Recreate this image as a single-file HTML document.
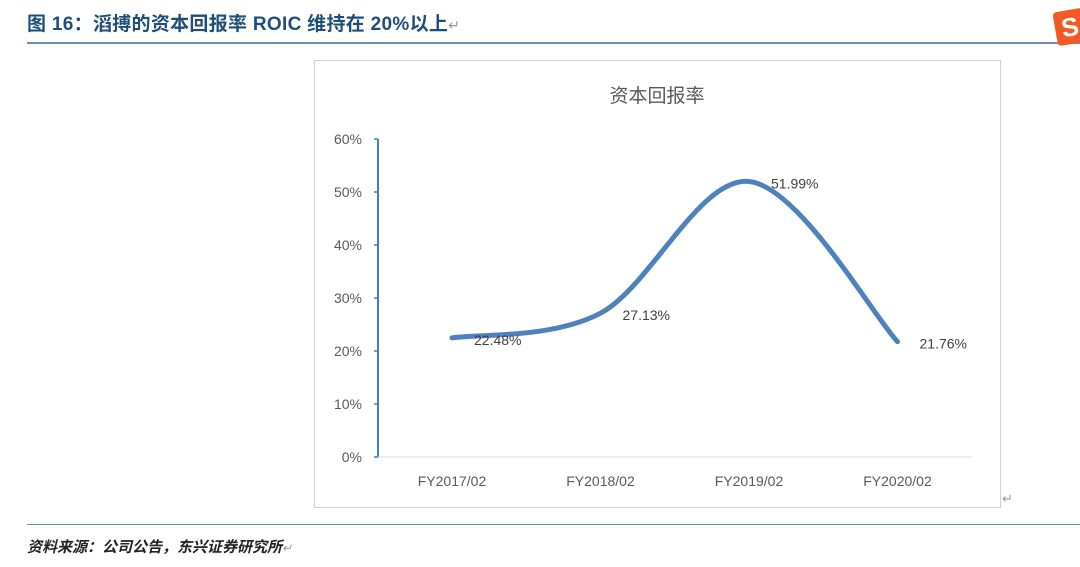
<!DOCTYPE html>
<html><head><meta charset="utf-8"><style>
body{margin:0;width:1080px;height:567px;background:#fff;overflow:hidden;position:relative;font-family:"Liberation Sans","Noto Sans CJK SC",sans-serif}
.t{position:absolute;left:27px;top:9px;font-size:19px;font-weight:bold;color:#1f4e79;letter-spacing:0.3px}
.l1{position:absolute;left:27px;top:42px;width:1053px;height:1.5px;background:#6b8db5}
.l2{position:absolute;left:27px;top:524px;width:1053px;height:1px;background:#6b8db5}
.f{position:absolute;left:27px;top:536px;font-size:15px;font-style:italic;font-weight:bold;color:#222}
.logo{position:absolute;left:1055px;top:10px;width:30px;height:34px;background:#f15a22;border-radius:4px;transform:rotate(-10deg);color:#fff;font-weight:bold;font-size:26px;line-height:34px;text-align:center}
</style></head><body>
<div class="t">图 16：滔搏的资本回报率 ROIC 维持在 20%以上<span style="color:#999;font-weight:normal;font-size:14px">↵</span></div>
<div class="l1"></div>
<div class="logo">S</div>
<svg width="1080" height="567" style="position:absolute;left:0;top:0">
<rect x="314.5" y="60.5" width="686" height="447" fill="#fff" stroke="#d0d0d0"/>
<text x="657" y="102" font-size="19" fill="#595959" text-anchor="middle" font-family="Liberation Sans, Noto Sans CJK SC, sans-serif">资本回报率</text>
<g id="ax"></g><g id="marks"></g>
<text x="1002" y="503" font-size="13" fill="#999">↵</text>
</svg>
<div class="l2"></div>
<div class="f">资料来源：公司公告，东兴证券研究所<span style="color:#999;font-weight:normal;font-size:12px">↵</span></div>
<script>
const categories=["FY2017/02","FY2018/02","FY2019/02","FY2020/02"];
const roic=[22.48,27.13,51.99,21.76];
const labels=["22.48%","27.13%","51.99%","21.76%"];
const yTicks=[0,10,20,30,40,50,60];
const NS="http://www.w3.org/2000/svg";
const X0=378,X1=972,Y0=457,Y60=139;
const xs=i=>452+i*(X1-X0)/4;
const ys=v=>Y0-(v/60)*(Y0-Y60);
const ax=document.getElementById('ax'),mk=document.getElementById('marks');
function el(t,a,p){const e=document.createElementNS(NS,t);for(const k in a)e.setAttribute(k,a[k]);p.appendChild(e);return e;}
let yl=el('line',{x1:X0,y1:Y60,x2:X0,y2:Y0,stroke:'#4a7ebb','stroke-width':2},ax);


let xl=el('line',{x1:X0,y1:Y0,x2:X1,y2:Y0,stroke:'#d9d9d9','stroke-width':1},ax);


yTicks.forEach(v=>{
 el('line',{x1:X0-4,y1:ys(v),x2:X0,y2:ys(v),stroke:'#4a7ebb','stroke-width':1.5},ax);
 const t=el('text',{x:X0-16,y:ys(v)+5,'font-size':14,fill:'#595959','text-anchor':'end'},ax);t.textContent=v+'%';
 
 
});
categories.forEach((c,i)=>{
 const t=el('text',{x:xs(i),y:486,'font-size':14,fill:'#595959','text-anchor':'middle'},ax);t.textContent=c;
 
 
});
const P=roic.map((v,i)=>[xs(i),ys(v)]);
let d='M'+P[0][0]+','+P[0][1];
for(let i=0;i<P.length-1;i++){
 const p0=P[Math.max(0,i-1)],p1=P[i],p2=P[i+1],p3=P[Math.min(P.length-1,i+2)];
 const s=6;
 d+=` C${p1[0]+(p2[0]-p0[0])/s},${p1[1]+(p2[1]-p0[1])/s} ${p2[0]-(p3[0]-p1[0])/s},${p2[1]-(p3[1]-p1[1])/s} ${p2[0]},${p2[1]}`;
}
const line=el('path',{d:d,fill:'none',stroke:'#4f81bd','stroke-width':5,'stroke-linecap':'round'},mk);


labels.forEach((l,i)=>{
 const t=el('text',{x:P[i][0]+22,y:P[i][1]+7,'font-size':14,fill:'#404040'},mk);t.textContent=l;
 
 
});
</script>
</body></html>
